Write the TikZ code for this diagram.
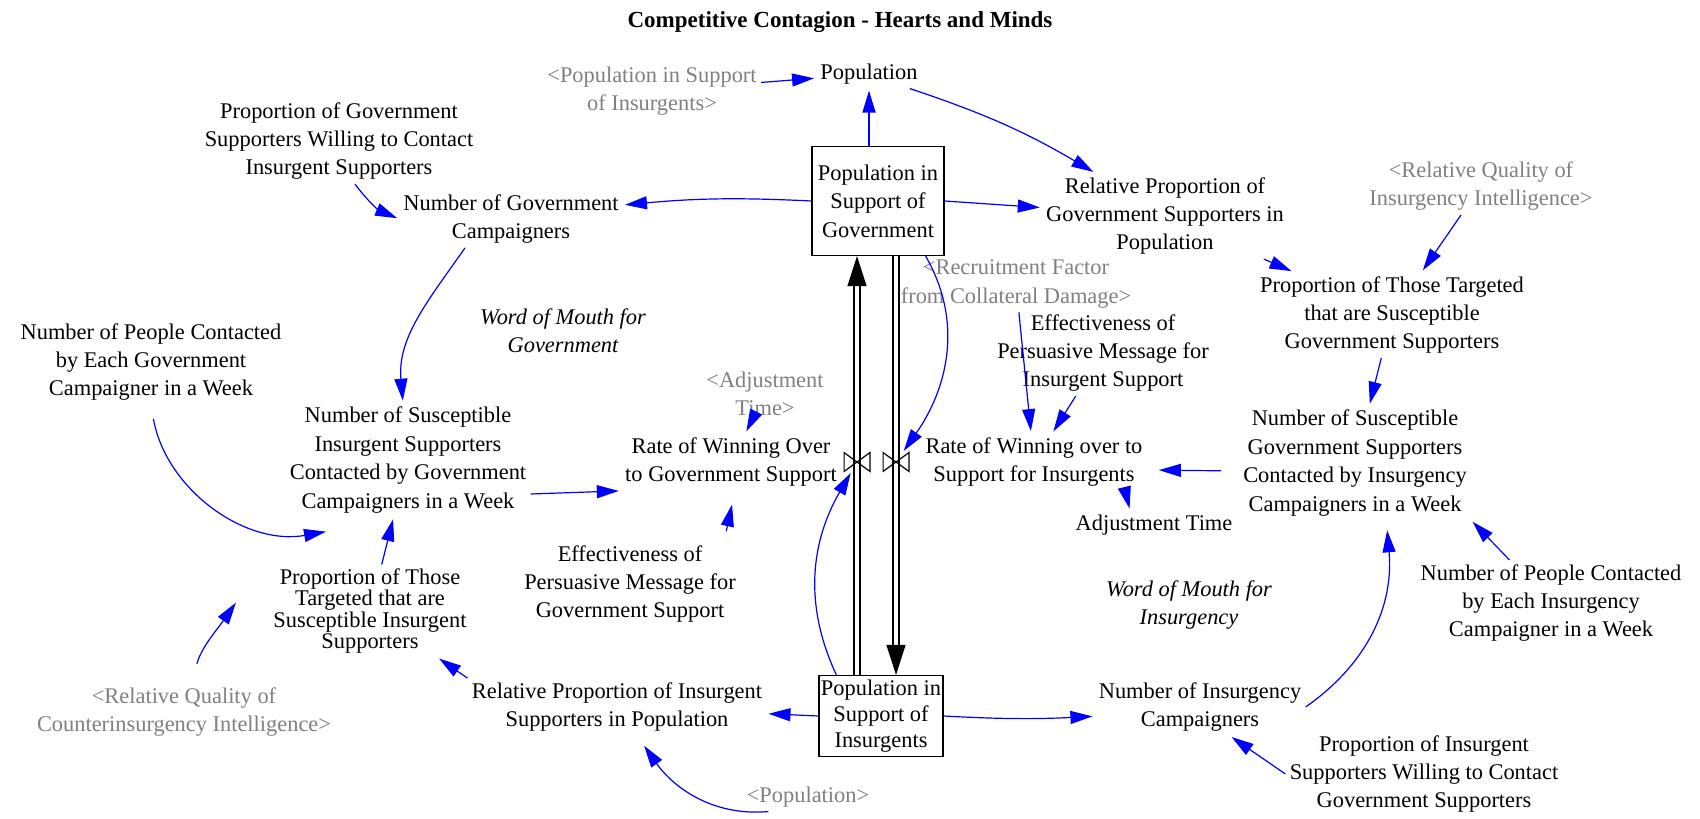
\documentclass[tikz,border=0pt]{standalone}
\usepackage{fontspec}
\setmainfont{Liberation Serif}
\usetikzlibrary{arrows.meta}
\definecolor{refgray}{RGB}{128,128,128}
\tikzset{
  var/.style={align=center, inner sep=2pt},
  shadowvar/.style={var, text=refgray},
  loopname/.style={align=center, font=\fontsize{11.2}{14.2}\selectfont\itshape},
  stock/.style={draw, line width=0.6pt, align=center, inner sep=1pt},
  valve/.style={minimum width=12.5pt, minimum height=9pt, inner sep=0pt},
  link/.style={blue, line width=0.6pt, shorten >=1pt, -{Triangle[length=11pt,width=6.5pt]}},
  pipe/.style={double, double distance=2.4pt, line width=0.6pt},
  pipehead/.style={line width=0.6pt, -{Triangle[length=15pt,width=9.5pt]}}
}

\begin{document}
\begin{tikzpicture}[x=0.5pt, y=0.5pt, font=\fontsize{11.2}{14.2}\selectfont]
\useasboundingbox (0,0) rectangle (1700,-818);
\node[font=\fontsize{11.5}{14}\selectfont\bfseries] (title) at (840,-22) {Competitive Contagion - Hearts and Minds};

\node[var] (pop) at (869,-74) {Population};
\node[shadowvar] (popinsref) at (652,-91) {<Population in Support\\of Insurgents>};
\node[stock, minimum width=66pt, minimum height=54.5pt] (govstock) at (878,-201) {Population in\\Support of\\Government};
\node[stock, minimum width=62pt, minimum height=40.5pt, font=\fontsize{11.2}{13}\selectfont] (insstock) at (881,-716) {Population in\\Support of\\Insurgents};
\node[valve] (vover) at (857,-462) {};
\node[valve] (vins) at (896,-462) {};

\node[var] (propgovwill) at (339,-141) {Proportion of Government\\Supporters Willing to Contact\\Insurgent Supporters};
\node[var] (numgovcamp) at (511,-219) {Number of Government\\Campaigners};
\node[var] (numpeoplegov) at (151,-362) {Number of People Contacted\\by Each Government\\Campaigner in a Week};
\node[var] (numsuscins) at (408,-460) {Number of Susceptible\\Insurgent Supporters\\Contacted by Government\\Campaigners in a Week};
\node[var, font=\fontsize{11.2}{10.6}\selectfont] (proptargins) at (370,-611) {Proportion of Those\\Targeted that are\\Susceptible Insurgent\\Supporters};
\node[shadowvar] (relqualcounter) at (184,-712) {<Relative Quality of\\Counterinsurgency Intelligence>};
\node[var] (relpropins) at (617,-707) {Relative Proportion of Insurgent\\Supporters in Population};
\node[shadowvar] (popref) at (808,-797) {<Population>};
\node[var] (effgov) at (630,-584) {Effectiveness of\\Persuasive Message for\\Government Support};
\node[var] (rateover) at (731,-462) {Rate of Winning Over\\to Government Support};
\node[shadowvar] (adjref) at (765,-394) {<Adjustment\\Time>};
\node[loopname] (womgov) at (563,-331) {Word of Mouth for\\Government};

\node[var] (rateins) at (1034,-462) {Rate of Winning over to\\Support for Insurgents};
\node[shadowvar] (recruit) at (1016,-284) {<Recruitment Factor\\from Collateral Damage>};
\node[var] (effins) at (1103,-353) {Effectiveness of\\Persuasive Message for\\Insurgent Support};
\node[var] (relpropgov) at (1165,-216) {Relative Proportion of\\Government Supporters in\\Population};
\node[shadowvar] (relqualins) at (1481,-186) {<Relative Quality of\\Insurgency Intelligence>};
\node[var] (proptargov) at (1392,-315) {Proportion of Those Targeted\\that are Susceptible\\Government Supporters};
\node[var] (numsuscgov) at (1355,-463) {Number of Susceptible\\Government Supporters\\Contacted by Insurgency\\Campaigners in a Week};
\node[var] (adjtime) at (1154,-525) {Adjustment Time};
\node[var] (numpeopleins) at (1551,-603) {Number of People Contacted\\by Each Insurgency\\Campaigner in a Week};
\node[loopname] (wominsurg) at (1189,-605) {Word of Mouth for\\Insurgency};
\node[var] (numinscamp) at (1200,-707) {Number of Insurgency\\Campaigners};
\node[var] (propinswill) at (1424,-774) {Proportion of Insurgent\\Supporters Willing to Contact\\Government Supporters};
\coordinate (adjtail) at (1126,-494);

\coordinate (overtop) at (vover |- govstock.south);
\coordinate (overbot) at (vover |- insstock.north);
\coordinate (instop) at (vins |- govstock.south);
\coordinate (insbot) at (vins |- insstock.north);
\path (overtop) ++(0,-4) coordinate (overneck);
\path (insbot) ++(0,4) coordinate (insneck);
\draw[pipe, shorten >=14pt] (overbot) -- (overtop);
\draw[pipe, shorten >=14pt] (instop) -- (insbot);
\draw[pipehead] (overneck) -- (overtop);
\draw[pipehead] (insneck) -- (insbot);
\foreach \v in {vover,vins}
  \draw[line width=0.6pt] (\v.south west) -- (\v.north east) -- (\v.south east) -- (\v.north west) -- cycle;

\draw[link] (popinsref) -- (pop);
\draw[link] (govstock.north -| pop) -- (pop);
\draw[link] (pop) to[bend left=6] (relpropgov);
\draw[link] (govstock.west) to[bend right=4] ([yshift=7pt]numgovcamp.east);
\draw[link] (govstock.east) -- (relpropgov);
\draw[link] ([xshift=8pt]propgovwill.south) to[bend right=15] (numgovcamp.west);
\draw[link] ([xshift=-23pt]numgovcamp.south) to[out=-125,in=95] (numsuscins);
\draw[link, shorten <=7pt] (numpeoplegov.south) to[out=-80,in=190] ([xshift=-40pt,yshift=-7pt]numsuscins.south);
\draw[link] ([yshift=-17pt]numsuscins.east) -- (rateover.south west);
\draw[link] (proptargins) -- (numsuscins);
\draw[link, shorten <=10pt] (relqualcounter) to[out=75,in=-125] ([xshift=-16pt,yshift=5pt]proptargins.west);
\draw[link] (relpropins.north west) -- (proptargins);
\draw[link] (insstock.west) -- (relpropins);
\draw[link, shorten >=6pt] ([xshift=13pt]popref.south west) to[out=185,in=-55] (relpropins);
\draw[link, shorten <=5pt, shorten >=7pt] ([xshift=-8pt]effgov.north east) -- ([xshift=2pt]rateover.south);
\draw[link] (adjref) -- (rateover);
\draw[link] ([xshift=9pt]insstock.north west) to[out=115,in=-120] (vover);

\draw[link] ([xshift=-9.5pt]govstock.south east) to[out=-60,in=55] (vins);
\draw[link] (recruit) -- (rateins);
\draw[link] (effins) -- (rateins);
\draw[link, shorten <=9pt, shorten >=6pt] ([yshift=-4pt]numsuscgov.west) -- ([yshift=-4pt]rateins.east);
\draw[link] (adjtail) -- ([xshift=-12pt]adjtime.north);
\draw[link] (relpropgov) -- (proptargov);
\draw[link] (relqualins) -- (proptargov);
\draw[link] (proptargov) -- (numsuscgov);
\draw[link] (numpeopleins) -- (numsuscgov.south east);
\draw[link] (insstock.east) to[bend right=3] (numinscamp);
\draw[link] (numinscamp.east) to[out=35,in=-85] ([xshift=16pt,yshift=-4pt]numsuscgov.south);
\draw[link] (propinswill.west) -- ([xshift=15pt]numinscamp.south);
\end{tikzpicture}
\end{document}
